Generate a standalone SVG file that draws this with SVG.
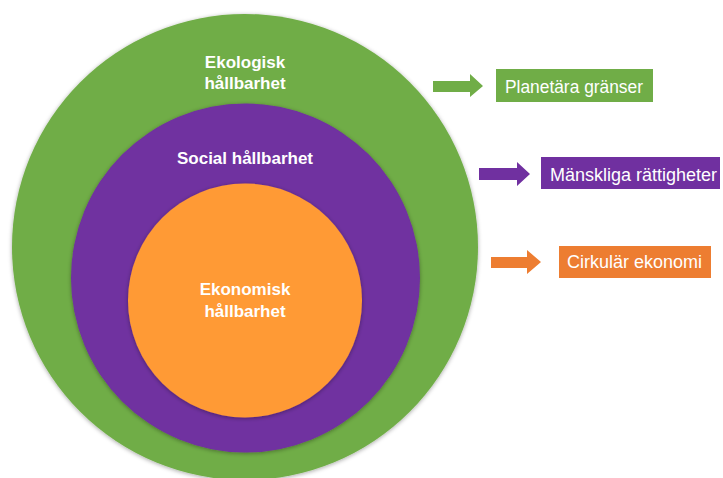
<svg xmlns="http://www.w3.org/2000/svg" width="723" height="478" viewBox="0 0 723 478">
<defs>
<filter id="sh" x="-10%" y="-10%" width="120%" height="120%">
<feDropShadow dx="0" dy="1" stdDeviation="2" flood-color="#000" flood-opacity="0.35"/>
</filter>
<style>
.big{font-family:"Liberation Sans",Arial,sans-serif;font-weight:bold;font-size:17px;fill:#fff;text-anchor:middle}
.lab{font-family:"Liberation Sans",Arial,sans-serif;font-size:17.5px;fill:#fff}
</style>
</defs>
<rect width="723" height="478" fill="#fff"/>
<g id="ekologisk">
<circle cx="245" cy="247" r="233" fill="#70AD47" filter="url(#sh)"/>
<text class="big" x="245" y="68">Ekologisk</text>
<text class="big" x="245" y="89">hållbarhet</text>
</g>
<g id="social">
<circle cx="245.5" cy="278" r="174.5" fill="#7030A0" filter="url(#sh)"/>
<text class="big" x="245" y="164">Social hållbarhet</text>
</g>
<g id="ekonomisk">
<circle cx="245" cy="300.5" r="117" fill="#FF9A35" filter="url(#sh)"/>
<text class="big" x="245" y="295">Ekonomisk</text>
<text class="big" x="245" y="317">hållbarhet</text>
</g>
<g id="connectors">
<polygon points="433,81 470,81 470,74 483,86 470,97 470,92 433,92" fill="#70AD47"/>
<polygon points="479,168 517,168 517,162 530,174 517,186 517,180 479,180" fill="#7030A0"/>
<polygon points="491,257 527,257 527,250 541,262 527,274 527,268 491,268" fill="#ED7D31"/>
</g>
<g id="planetara">
<rect x="496" y="69" width="157" height="33" fill="#70AD47"/>
<text class="lab" x="505" y="93" textLength="138" lengthAdjust="spacingAndGlyphs">Planetära gränser</text>
</g>
<g id="manskliga">
<rect x="541" y="157" width="179" height="32" fill="#7030A0"/>
<text class="lab" x="550" y="181" textLength="167" lengthAdjust="spacingAndGlyphs">Mänskliga rättigheter</text>
</g>
<g id="cirkular">
<rect x="559" y="246" width="152" height="32" fill="#ED7D31"/>
<text class="lab" x="567" y="268" textLength="135" lengthAdjust="spacingAndGlyphs">Cirkulär ekonomi</text>
</g>
</svg>
